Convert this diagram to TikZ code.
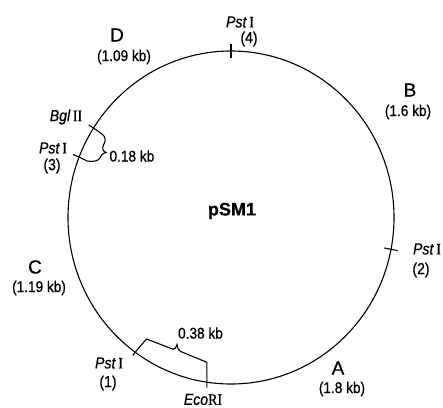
\documentclass[tikz,border=0pt]{standalone}
\usepackage{graphicx}
\usepackage{fontspec}
\setmainfont[FakeBold=0.7]{Liberation Sans}
\newfontfamily\rnfont[FakeBold=0.7]{Liberation Serif}
\usetikzlibrary{calc}
\newcommand{\enz}[2]{\textit{#1}\,{\rnfont #2}}
\newcommand{\cnd}[1]{\scalebox{0.88}[1]{#1}}
\begin{document}
\begin{tikzpicture}[x=1pt,y=-1pt,line width=1.1pt,
  lbl/.style={font=\fontsize{15.5}{15.5}\selectfont, inner sep=0pt},
  site/.style={font=\fontsize{16}{16}\selectfont, inner sep=0pt},
  big/.style={font=\fontsize{19}{19}\selectfont, inner sep=0pt},
  title/.style={font=\fontsize{18}{18}\selectfont\bfseries, inner sep=0pt}]
\useasboundingbox (0,0) rectangle (443,407);
\coordinate (c) at (231,217.5);
\draw (c) ellipse [x radius=163, y radius=166.5];
% sites on the circle
\coordinate (p4) at ($(c)+(-90:163 and 166.5)$);
\coordinate (p2) at ($(c)+(11:163 and 166.5)$);
\coordinate (eco) at ($(c)+(98.5:163 and 166.5)$);
\coordinate (p1) at ($(c)+(126:163 and 166.5)$);
\coordinate (p3) at ($(c)+(-158.7:163 and 166.5)$);
\coordinate (bgl) at ($(c)+(-147.5:163 and 166.5)$);
% ticks
\draw ($(c)!1.042!(p4)$) -- ($(c)!0.958!(p4)$);
\draw ($(c)!1.042!(p2)$) -- ($(c)!0.958!(p2)$);
% 0.38 kb brace
\draw ($(c)!1.025!(p1)$) -- (p1) -- (146.5,339) -- (173,349.2)
  .. controls (175,349) and (176.5,347.5) .. (177,344.5)
  .. controls (177.5,347.5) and (178,350) .. (180.5,351.4)
  -- (206.9,362.3) -- ($(eco)+(0,5.5)$);
% 0.18 kb brace
\draw ($(c)!1.035!(bgl)$) -- (bgl) -- (102,134)
  .. controls (106,137) and (106,141) .. (103.5,145)
  .. controls (102,148) and (102.5,151) .. (106,152.5)
  .. controls (102,153.5) and (101,155.5) .. (99.5,158.5)
  .. controls (98,161) and (93,162) .. (87,161)
  -- (p3) -- ($(c)!1.04!(p3)$);
% labels
\node[title] (name) at (232,211) {pSM1};
\node[site] (l4) at (240,22) {\cnd{\enz{Pst}{I}}};
\node[site] (n4) at (249,39) {\cnd{(4)}};
\node[big] (B) at (410,90) {B};
\node[lbl] (Bs) at (408,112) {\cnd{(1.6 kb)}};
\node[big] (D) at (117,35) {D};
\node[lbl] (Ds) at (124,57) {\cnd{(1.09 kb)}};
\node[site] (lb) at (66,117) {\cnd{\enz{Bgl}{II}}};
\node[site] (l3) at (53,148) {\cnd{\enz{Pst}{I}}};
\node[site] (n3) at (52,166) {\cnd{(3)}};
\node[lbl,anchor=west] (k18) at (109,156) {\cnd{0.18 kb}};
\node[big] (C) at (35,267) {C};
\node[lbl] (Cs) at (39,288) {\cnd{(1.19 kb)}};
\node[lbl] (k38) at (200.5,333) {\cnd{0.38 kb}};
\node[site] (l1) at (109,363) {\cnd{\enz{Pst}{I}}};
\node[site] (n1) at (108,383) {\cnd{(1)}};
\node[site] (le) at (203,399.5) {\cnd{\textit{Eco}{\rnfont RI}}};
\node[site] (l2) at (427,249) {\cnd{\enz{Pst}{I}}};
\node[site] (n2) at (421,270) {\cnd{(2)}};
\node[big] (A) at (338,368) {A};
\node[lbl] (As) at (342,389) {\cnd{(1.8 kb)}};
\end{tikzpicture}
\end{document}
